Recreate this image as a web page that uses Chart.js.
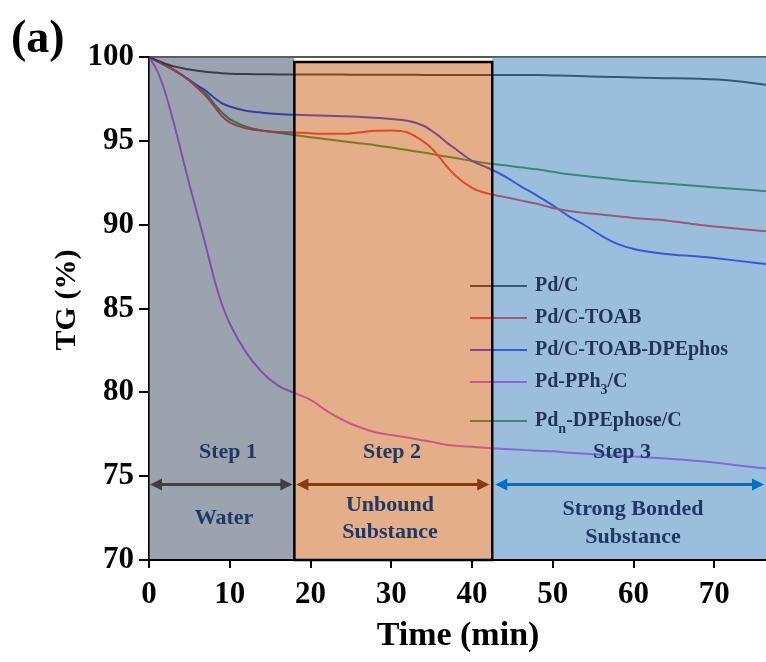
<!DOCTYPE html>
<html>
<head>
<meta charset="utf-8">
<script src="https://cdn.jsdelivr.net/npm/chart.js@4.4.1/dist/chart.umd.min.js"></script>
<style>
  body { margin: 0; background: #fff; }
  #wrap { width: 766px; height: 662px; }
</style>
</head>
<body>
<div id="wrap"><canvas id="tgChart" width="766" height="662"></canvas></div>
<script>
//----------- data -----------//
const timeMin = [0, 1, 2, 3, 4, 5, 6, 7, 8, 9, 10, 12, 14, 16, 18, 20, 22, 24, 26, 28, 30, 32, 34, 35, 36, 37, 38, 40, 42, 44, 46, 48, 50, 52, 54, 56, 58, 60, 64, 68, 72, 76.4];

const pdC = [100, 99.8, 99.6, 99.45, 99.35, 99.25, 99.18, 99.12, 99.07, 99.03, 99.0, 98.98, 98.97, 98.96, 98.95, 98.95, 98.95, 98.95, 98.94, 98.94, 98.94, 98.94, 98.93, 98.93, 98.93, 98.93, 98.93, 98.93, 98.93, 98.93, 98.93, 98.92, 98.9, 98.88, 98.85, 98.82, 98.8, 98.78, 98.74, 98.7, 98.6, 98.35];

const pdcToab = [100, 99.75, 99.5, 99.25, 98.95, 98.6, 98.15, 97.7, 97.1, 96.5, 96.1, 95.75, 95.6, 95.53, 95.5, 95.45, 95.42, 95.42, 95.5, 95.6, 95.62, 95.5, 94.95, 94.55, 94.0, 93.4, 92.9, 92.2, 91.85, 91.65, 91.45, 91.25, 91.0, 90.82, 90.7, 90.6, 90.5, 90.4, 90.25, 90.0, 89.8, 89.6];

const pdcDpephos = [100, 99.75, 99.5, 99.25, 98.95, 98.62, 98.3, 98.0, 97.6, 97.25, 97.05, 96.8, 96.68, 96.6, 96.55, 96.52, 96.5, 96.47, 96.43, 96.38, 96.3, 96.2, 95.9, 95.6, 95.25, 94.85, 94.5, 93.8, 93.38, 92.9, 92.3, 91.75, 91.15, 90.5, 89.95, 89.35, 88.85, 88.55, 88.25, 88.1, 87.9, 87.65];

const pdPph3 = [100, 99.2, 97.9, 96.2, 94.3, 92.4, 90.6, 88.8, 86.9, 85.3, 84.1, 82.4, 81.2, 80.4, 79.97, 79.55, 78.9, 78.35, 77.93, 77.62, 77.45, 77.3, 77.13, 77.05, 76.95, 76.86, 76.82, 76.75, 76.68, 76.62, 76.57, 76.52, 76.48, 76.4, 76.33, 76.27, 76.22, 76.17, 76.05, 75.9, 75.7, 75.45];

const pdnDpephose = [100, 99.75, 99.5, 99.25, 98.95, 98.62, 98.2, 97.85, 97.25, 96.7, 96.3, 95.85, 95.62, 95.48, 95.35, 95.22, 95.1, 94.98, 94.86, 94.74, 94.6, 94.45, 94.3, 94.22, 94.13, 94.05, 93.97, 93.8, 93.65, 93.55, 93.42, 93.3, 93.15, 93.0, 92.9, 92.8, 92.7, 92.6, 92.45, 92.3, 92.15, 92.0];

const seriesNames = ['Pd/C', 'Pd/C-TOAB', 'Pd/C-TOAB-DPEphos', 'Pd-PPh3/C', 'Pdn-DPEphose/C'];
// legend text split into normal / subscript pieces
const legendLabels = [['Pd/C'], ['Pd/C-TOAB'], ['Pd/C-TOAB-DPEphos'], ['Pd-PPh', '3', '/C'], ['Pd', 'n', '-DPEphose/C']];
const xTicks = [0, 10, 20, 30, 40, 50, 60, 70];
const stepEdges = [0, 18, 42.5, 76.4];
const stepTitles = ['Step 1', 'Step 2', 'Step 3'];
const stepNotes = [['Water'], ['Unbound', 'Substance'], ['Strong Bonded', 'Substance']];

//----------- styles -----------//
const lineColors = ['#000000', '#ff0000', '#0000ff', '#c828ff', '#008000'];
const stepFills = ['rgb(88,102,120)', 'rgb(208,120,57)', 'rgb(88,147,198)'];
const arrowColors = ['#404040', '#843c0c', '#0070c0'];
const serif = '"Liberation Serif", "Times New Roman", serif';
const navy = '#1f3864';

const allSeries = [pdC, pdcToab, pdcDpephos, pdPph3, pdnDpephose];

function drawArrow(ctx, x0, x1, yy, color) {
  const head = 12;
  ctx.strokeStyle = color;
  ctx.fillStyle = color;
  ctx.lineWidth = 3;
  ctx.beginPath();
  ctx.moveTo(x0 + head - 2, yy);
  ctx.lineTo(x1 - head + 2, yy);
  ctx.stroke();
  ctx.beginPath();
  ctx.moveTo(x0, yy);
  ctx.lineTo(x0 + head, yy - 6);
  ctx.lineTo(x0 + head, yy + 6);
  ctx.closePath();
  ctx.fill();
  ctx.beginPath();
  ctx.moveTo(x1, yy);
  ctx.lineTo(x1 - head, yy - 6);
  ctx.lineTo(x1 - head, yy + 6);
  ctx.closePath();
  ctx.fill();
}

const stepBoxes = {
  id: 'stepBoxes',
  beforeDatasetsDraw(chart) {
    const { ctx, chartArea: a } = chart;
    ctx.save();
    ctx.strokeStyle = '#222';
    ctx.lineWidth = 1.5;
    ctx.beginPath();
    ctx.moveTo(a.left, a.top);
    ctx.lineTo(a.right, a.top);
    ctx.stroke();
    ctx.restore();
  },
  afterDatasetsDraw(chart) {
    const { ctx, chartArea: a, scales: { x, y } } = chart;
    const legendX = 470, legendTop = 286;
    const legendGap = [0, 32, 64, 96, 135];

    ctx.save();
    // legend lines, drawn before the shading so they get tinted too
    ctx.lineWidth = 2;
    legendLabels.forEach((parts, i) => {
      const ly = legendTop + legendGap[i];
      ctx.strokeStyle = lineColors[i];
      ctx.beginPath();
      ctx.moveTo(legendX, ly);
      ctx.lineTo(legendX + 57, ly);
      ctx.stroke();
    });

    // translucent step regions
    ctx.globalAlpha = 0.6;
    for (let i = 0; i < 3; i++) {
      const x0 = x.getPixelForValue(stepEdges[i]);
      const x1 = x.getPixelForValue(stepEdges[i + 1]);
      const top = i === 1 ? a.top + 5 : a.top;
      ctx.fillStyle = stepFills[i];
      ctx.fillRect(x0, top, x1 - x0, a.bottom - 1 - top);
    }
    ctx.globalAlpha = 1;

    // black frame of step 2
    const b0 = x.getPixelForValue(stepEdges[1]);
    const b1 = x.getPixelForValue(stepEdges[2]);
    ctx.strokeStyle = '#000';
    ctx.lineWidth = 2.5;
    ctx.strokeRect(b0, a.top + 5, b1 - b0, a.bottom - a.top - 5);

    // arrows
    const ay = y.getPixelForValue(74.5);
    drawArrow(ctx, a.left + 1, b0 - 2, ay, arrowColors[0]);
    drawArrow(ctx, b0 + 2, b1 - 3, ay, arrowColors[1]);
    drawArrow(ctx, b1 + 3, a.right - 2, ay, arrowColors[2]);

    // step texts
    ctx.fillStyle = navy;
    ctx.font = 'bold 22px ' + serif;
    ctx.textAlign = 'center';
    ctx.textBaseline = 'middle';
    const titleX = [228, 392, 622];
    const noteX = [224, 390, 633];
    const noteY = [[34], [21, 48], [25, 53]];
    for (let i = 0; i < 3; i++) {
      ctx.fillText(stepTitles[i], titleX[i], ay - 32);
      stepNotes[i].forEach((t, j) => ctx.fillText(t, noteX[i], ay + noteY[i][j]));
    }

    // legend text
    ctx.textAlign = 'left';
    ctx.fillStyle = '#1f3556';
    legendLabels.forEach((parts, i) => {
      const ly = legendTop + legendGap[i];
      let tx = legendX + 65;
      parts.forEach((p, j) => {
        const sub = j % 2 === 1;
        ctx.font = (sub ? 'bold 14px ' : 'bold 20px ') + serif;
        ctx.fillText(p, tx, sub ? ly + 8 : ly);
        tx += ctx.measureText(p).width;
      });
    });

    ctx.restore();
  },
  afterDraw(chart) {
    const { ctx } = chart;
    ctx.save();
    ctx.fillStyle = '#000';
    ctx.font = 'bold 46px ' + serif;
    ctx.textAlign = 'left';
    ctx.textBaseline = 'alphabetic';
    ctx.fillText('(a)', 11, 52);

    ctx.font = 'bold 34px ' + serif;
    ctx.textAlign = 'center';
    ctx.textBaseline = 'middle';
    ctx.fillText('Time (min)', 458, 636);

    ctx.translate(67, 300);
    ctx.rotate(-Math.PI / 2);
    ctx.font = 'bold 30px ' + serif;
    ctx.fillText('TG (%)', 0, 0);
    ctx.restore();
  }
};

//----------- chart -----------//
const tgCanvas = document.getElementById('tgChart');

let tgData = {
  datasets: allSeries.map((vals, i) => ({
    label: seriesNames[i],
    data: timeMin.map((t, k) => ({ x: t, y: vals[k] })),
    borderColor: lineColors[i],
    borderWidth: 2,
    pointRadius: 0,
    fill: false,
    cubicInterpolationMode: 'monotone'
  }))
};

let tgOptions = {
  responsive: false,
  animation: false,
  layout: { padding: { top: 57, right: 0, left: 0, bottom: 0 } },
  scales: {
    x: {
      type: 'linear',
      min: 0,
      max: 76.4,
      afterFit: s => { s.height = 102; },
      afterBuildTicks: s => { s.ticks = xTicks.map(v => ({ value: v })); },
      grid: { drawOnChartArea: false, tickLength: 8, color: '#000', lineWidth: 2 },
      border: { color: '#000', width: 2 },
      ticks: { color: '#000', padding: 8, font: { family: serif, size: 31, weight: 'bold' } }
    },
    y: {
      min: 70,
      max: 100,
      afterFit: s => { s.width = 149; },
      grid: { drawOnChartArea: false, tickLength: 10, color: '#000', lineWidth: 2 },
      border: { color: '#000', width: 2 },
      ticks: { stepSize: 5, color: '#000', padding: 5, font: { family: serif, size: 31, weight: 'bold' } }
    }
  },
  plugins: {
    legend: { display: false },
    tooltip: { enabled: false }
  }
};

let tgChart = new Chart(tgCanvas, {
  type: 'line',
  data: tgData,
  options: tgOptions,
  plugins: [stepBoxes]
});
</script>
</body>
</html>
